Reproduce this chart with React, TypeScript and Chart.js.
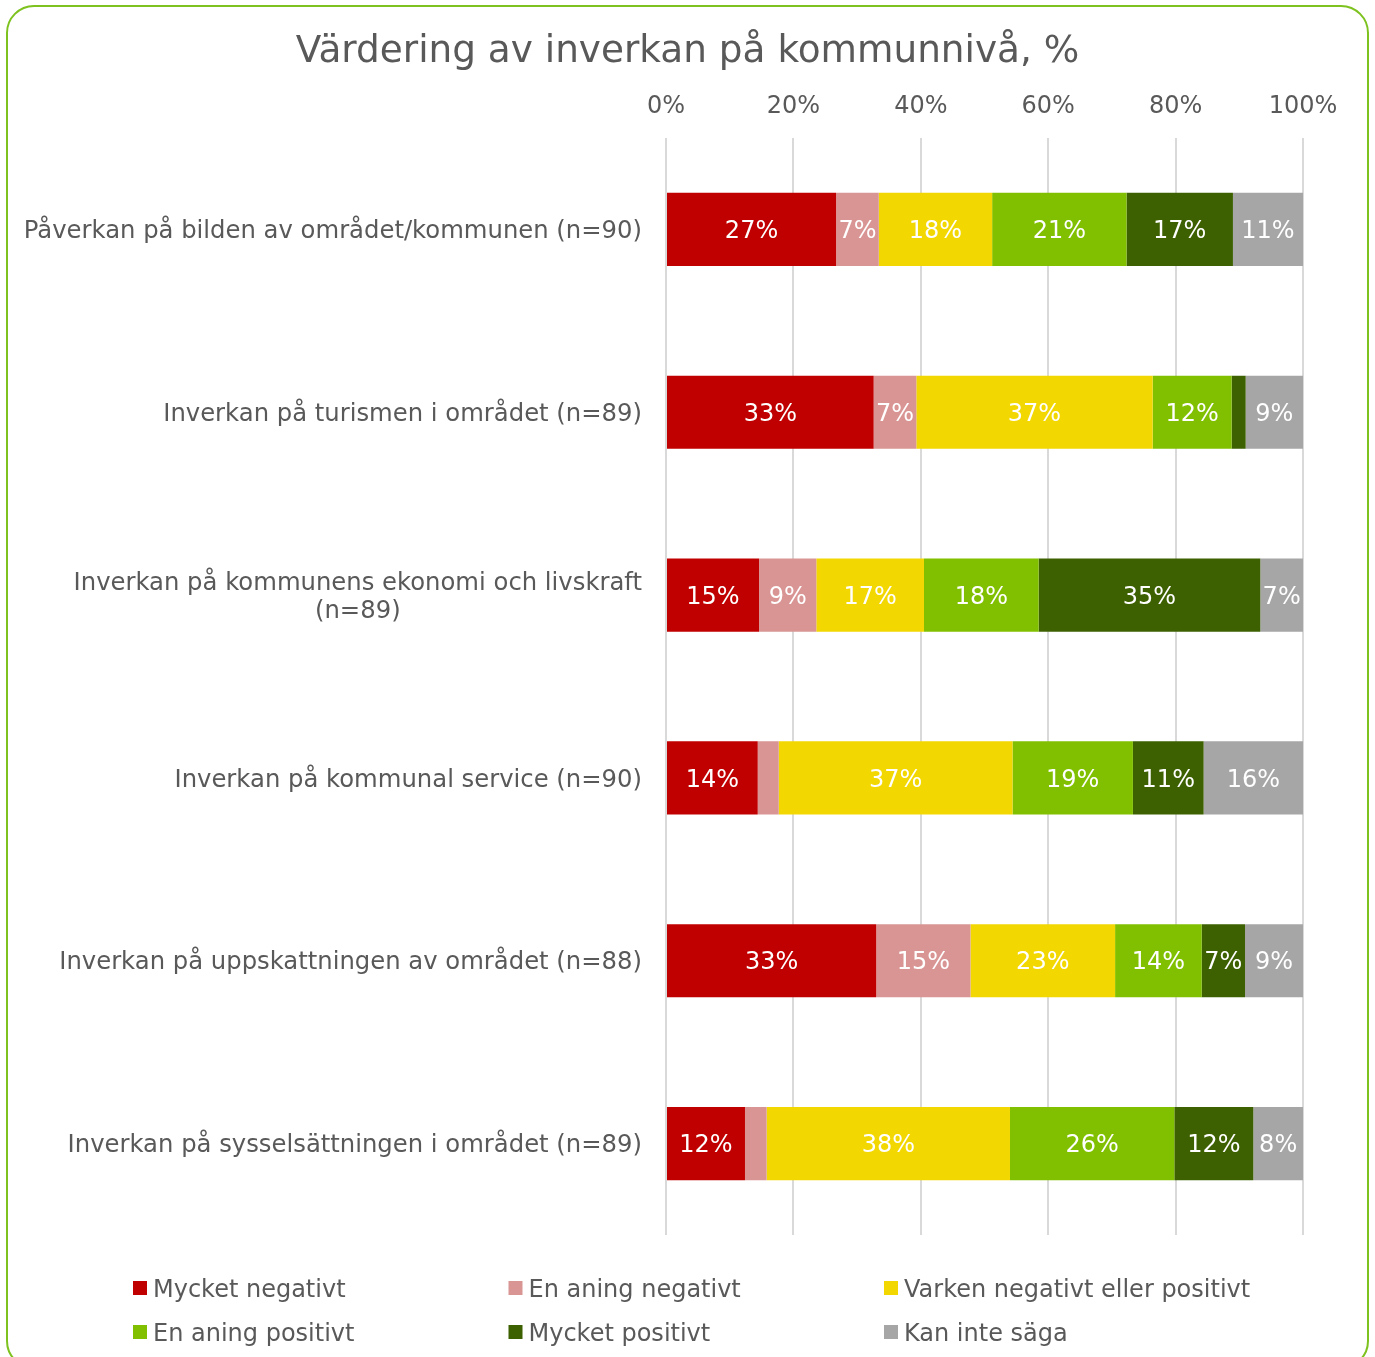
import React, { useEffect, useRef } from "react";
import { Chart, registerables } from "chart.js";

Chart.register(...registerables);

const titleText = "Värdering av inverkan på kommunnivå, %";

const categories: (string | string[])[] = [
  "Påverkan på bilden av området/kommunen (n=90)",
  "Inverkan på turismen i området (n=89)",
  ["Inverkan på kommunens ekonomi och livskraft", "(n=89)"],
  "Inverkan på kommunal service (n=90)",
  "Inverkan på uppskattningen av området (n=88)",
  "Inverkan på sysselsättningen i området (n=89)",
];

const seriesNames = [
  "Mycket negativt",
  "En aning negativt",
  "Varken negativt eller positivt",
  "En aning positivt",
  "Mycket positivt",
  "Kan inte säga",
];

const mycketNegativt = [26.7, 32.6, 14.6, 14.4, 33.0, 12.4];
const enAningNegativt = [6.7, 6.7, 9.0, 3.3, 14.8, 3.4];
const varkenNegEllerPos = [17.8, 37.1, 16.9, 36.7, 22.7, 38.2];
const enAningPositivt = [21.1, 12.4, 18.0, 18.9, 13.6, 25.8];
const mycketPositivt = [16.7, 2.2, 34.8, 11.1, 6.8, 12.4];
const kanInteSaga = [11.0, 9.0, 6.7, 15.6, 9.1, 7.8];

const xTickValues = [0, 20, 40, 60, 80, 100];

const seriesColors = ["#C00000", "#D99594", "#F2D700", "#80C000", "#3D6000", "#A6A6A6"];

const FONT = "'DejaVu Sans', Verdana, sans-serif";
const TEXT = "#595959";
const FS = 24;
const CAT_FS = 24.3;

const labelPlugin = {
  id: "customLabels",
  afterDatasetsDraw(chart: any) {
    const ctx = chart.ctx;
    ctx.save();
    ctx.font = `${FS}px ${FONT}`;
    ctx.fillStyle = "#FFFFFF";
    ctx.textAlign = "center";
    ctx.textBaseline = "alphabetic";
    chart.data.datasets.forEach((ds: any, di: number) => {
      const meta = chart.getDatasetMeta(di);
      meta.data.forEach((bar: any, i: number) => {
        const v = ds.data[i];
        if (v < 5) return;
        const p = bar.getProps(["x", "y", "base"], true);
        ctx.fillText(Math.round(v) + "%", (p.x + p.base) / 2, p.y + FS * 0.36);
      });
    });
    ctx.restore();
  },
  afterDraw(chart: any) {
    const ctx = chart.ctx;
    const area = chart.chartArea;
    const yScale = chart.scales.y;
    ctx.save();
    ctx.font = `${CAT_FS}px ${FONT}`;
    ctx.fillStyle = TEXT;
    ctx.textAlign = "center";
    ctx.textBaseline = "alphabetic";
    const lh = 27.5;
    const right = area.left - 24;
    (chart.data.labels as any[]).forEach((lab: any, i: number) => {
      const lines: string[] = Array.isArray(lab) ? lab : [lab];
      const maxW = Math.max(...lines.map((l) => ctx.measureText(l).width));
      const cx = right - maxW / 2;
      const cy = yScale.getPixelForValue(i);
      lines.forEach((l, j) => {
        const ly = cy + (j - (lines.length - 1) / 2) * lh;
        ctx.fillText(l, cx, ly + CAT_FS * 0.36);
      });
    });

    // legend: 3 columns x 2 rows
    ctx.font = `${FS}px ${FONT}`;
    ctx.textAlign = "left";
    const colX = [133, 508.5, 884];
    const rowY = [area.bottom + 53, area.bottom + 97];
    chart.data.datasets.forEach((ds: any, di: number) => {
      const c = di % 3;
      const r = Math.floor(di / 3);
      const x = colX[c];
      const y = rowY[r];
      ctx.fillStyle = ds.backgroundColor;
      ctx.fillRect(x, y - 7, 14, 14);
      ctx.fillStyle = TEXT;
      ctx.fillText(ds.label, x + 20, y + FS * 0.36);
    });
    ctx.restore();
  },
};

export default function App() {
  const ref = useRef<HTMLCanvasElement | null>(null);

  useEffect(() => {
    if (!ref.current) return;
    const seriesData = [
      mycketNegativt,
      enAningNegativt,
      varkenNegEllerPos,
      enAningPositivt,
      mycketPositivt,
      kanInteSaga,
    ];
    const chart = new Chart(ref.current, {
      type: "bar",
      data: {
        labels: categories as any,
        datasets: seriesData.map((d, i) => ({
          label: seriesNames[i],
          data: d,
          backgroundColor: seriesColors[i],
          borderWidth: 0,
          barPercentage: 0.4,
          categoryPercentage: 1,
        })),
      },
      options: {
        indexAxis: "y",
        responsive: false,
        animation: false,
        devicePixelRatio: 1,
        layout: { padding: { left: 0, right: 0, top: 0, bottom: 122 } },
        scales: {
          x: {
            position: "top",
            stacked: true,
            min: 0,
            max: 100,
            afterBuildTicks: (s: any) => {
              s.ticks = xTickValues.map((v) => ({ value: v }));
            },
            afterFit: (s: any) => {
              s.height = 44.6;
            },
            ticks: {
              callback: (v: any) => v + "%",
              color: TEXT,
              font: { family: FONT, size: FS },
              padding: 16.4,
              maxRotation: 0,
            },
            grid: { color: "#D9D9D9", lineWidth: 2, drawTicks: false },
            border: { display: false },
          },
          y: {
            stacked: true,
            grid: { display: false },
            border: { display: false },
            ticks: { display: false },
            afterFit: (s: any) => {
              s.width = 666;
            },
          },
          yRight: {
            type: "category",
            position: "right",
            grid: { display: false },
            border: { display: false },
            ticks: { display: false },
            afterFit: (s: any) => {
              s.width = 72;
            },
          },
        },
        plugins: {
          legend: { display: false },
          tooltip: { enabled: false },
          title: {
            display: true,
            text: titleText,
            color: TEXT,
            font: { family: FONT, size: 37.4, weight: "normal", lineHeight: 1.2 },
            padding: { top: 30, bottom: 18.5 },
          },
        },
      },
      plugins: [labelPlugin],
    });
    return () => chart.destroy();
  }, []);

  return (
    <div>
      <div
        style={{
          position: "fixed",
          left: 6,
          top: 5,
          width: 1363,
          height: 1364,
          boxSizing: "border-box",
          border: "2px solid #7DC21E",
          borderRadius: 28,
        }}
      />
      <canvas
        ref={ref}
        width={1375}
        height={1357}
        style={{ position: "fixed", left: 0, top: 0, width: 1375, height: 1357 }}
      />
    </div>
  );
}
